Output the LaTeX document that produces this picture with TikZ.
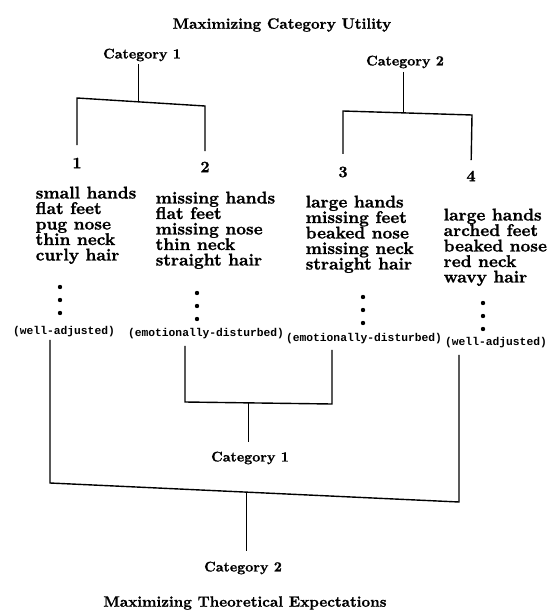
\documentclass[tikz,border=0pt]{standalone}
\usepackage{fontspec}
\newfontfamily\labelfont{Liberation Mono}
\newfontfamily\bxfont{lmroman10-bold}[Extension=.otf,FakeBold=1]
\usetikzlibrary{calc}

\begin{document}
\begin{tikzpicture}
  [x=1pt,y=-1pt,line width=1.4pt,
   every node/.style={inner sep=0pt},
   title/.style={font=\bxfont\fontsize{15}{18}\selectfont},
   cat/.style={font=\bxfont\fontsize{14}{17}\selectfont},
   num/.style={font=\bxfont\fontsize{16}{19}\selectfont},
   traits/.style={anchor=north west,align=left,font=\bxfont\fontsize{17}{15.5}\selectfont},
   adj/.style={font=\labelfont\fontsize{11.3}{13}\selectfont\bfseries}]
  \useasboundingbox (0,0) rectangle (547,615);

  \node[title] (util) at (282,25) {Maximizing Category Utility};
  \node[cat] (c1top) at (142,55) {Category 1};
  \node[cat] (c2top) at (405,62) {Category 2};

  \node[num] (n1) at (77,163) {1};
  \node[num] (n2) at (205,167) {2};
  \node[num] (n3) at (343,172) {3};
  \node[num] (n4) at (471,176) {4};

  \node[traits] (t1) at (35,186) {small hands\\flat feet\\pug nose\\thin neck\\curly hair};
  \node[traits] (t2) at (155,191) {missing hands\\flat feet\\missing nose\\thin neck\\straight hair};
  \node[traits] (t3) at (305,195) {large hands\\missing feet\\beaked nose\\missing neck\\straight hair};
  \node[traits] (t4) at (443,208) {large hands\\arched feet\\beaked nose\\red neck\\wavy hair};

  \node[adj] (a1) at (64,332) {(well-adjusted)};
  \node[adj] (a2) at (206,334) {(emotionally-disturbed)};
  \node[adj] (a3) at (364,339) {(emotionally-disturbed)};
  \node[adj] (a4) at (496,343) {(well-adjusted)};

  \node[cat] (c1bot) at (250,458) {Category 1};
  \node[cat] (c2bot) at (243,568) {Category 2};
  \node[title] (theo) at (245,603) {Maximizing Theoretical Expectations};

  \foreach \x/\y in {60/287,197/293,363/297,483/303}
    \foreach \k in {0,1,2}
      \fill (\x,\y+\k*13) circle (2.2pt);

  \coordinate (u1l) at (77,98);   \coordinate (u1r) at (205,106);
  \coordinate (u2l) at (343,111); \coordinate (u2r) at (472,115);
  \coordinate (b1l) at (185,402); \coordinate (b1r) at (332,404);
  \coordinate (b2l) at (50,483);  \coordinate (b2r) at (459,502);
  \coordinate (u1m) at ($(u1l)!0.48!(u1r)$);
  \coordinate (u2m) at ($(u2l)!0.47!(u2r)$);
  \coordinate (b1m) at ($(b1l)!0.43!(b1r)$);
  \coordinate (b2m) at ($(b2l)!0.48!(b2r)$);

  \draw[shorten <=12pt,shorten >=10pt] (n1.north) -- (u1l) -- (u1r) -- (n2.north);
  \draw[shorten <=12pt,shorten >=10pt] (n3.north) -- (u2l) -- (u2r) -- (n4.north);
  \draw[shorten <=2pt] (c1top.south -| u1m) -- (u1m);
  \draw[shorten <=3pt] (c2top.south -| u2m) -- (u2m);

  \draw[shorten <=6pt,shorten >=5pt] (a2.south -| b1l) -- (b1l) -- (b1r) -- (a3.south -| b1r);
  \draw[shorten <=2pt,shorten >=6pt] (a1.south -| b2l) -- (b2l) -- (b2r) -- (a4.south -| b2r);
  \draw[shorten >=9pt] (b1m) -- (c1bot.north -| b1m);
  \draw[shorten >=10pt] (b2m) -- (c2bot.north -| b2m);

\end{tikzpicture}
\end{document}
